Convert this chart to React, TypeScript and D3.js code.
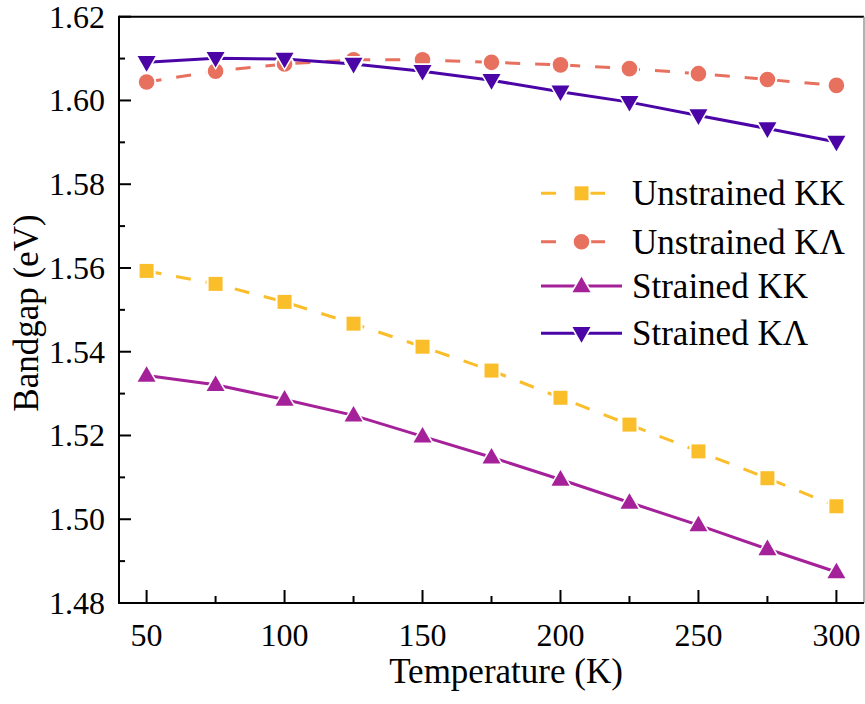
import React, { useEffect, useRef } from "react";
import * as d3 from "d3";

const temps = [50, 75, 100, 125, 150, 175, 200, 225, 250, 275, 300];
const unstrainedKK = [1.5593, 1.5562, 1.5519, 1.5467, 1.5412, 1.5355, 1.529, 1.5226, 1.5162, 1.5098, 1.5031];
const unstrainedKL = [1.6044, 1.607, 1.6087, 1.6097, 1.6097, 1.6091, 1.6085, 1.6076, 1.6064, 1.605, 1.6036];
const strainedKK = [1.5343, 1.5321, 1.5286, 1.5248, 1.5198, 1.5148, 1.5095, 1.504, 1.4986, 1.4929, 1.4874];
const strainedKL = [1.6091, 1.6101, 1.6099, 1.6087, 1.607, 1.6048, 1.6021, 1.5996, 1.5964, 1.5933, 1.5901];

const xTicks = [50, 100, 150, 200, 250, 300];
const xMinor = [75, 125, 175, 225, 275];
const yTicks = [1.48, 1.5, 1.52, 1.54, 1.56, 1.58, 1.6, 1.62];
const yMinor = [1.49, 1.51, 1.53, 1.55, 1.57, 1.59, 1.61];

const seriesNames = ["Unstrained KK", "Unstrained KΛ", "Strained KK", "Strained KΛ"];
const seriesData = [unstrainedKK, unstrainedKL, strainedKK, strainedKL];
const seriesColors = ["#FBBE2B", "#E8705F", "#A5219A", "#4B05A6"];
const seriesDashed = [true, true, false, false];
const seriesMarker = ["square", "circle", "up", "down"];

const FF = "Times New Roman";

function markerPath(kind: string, x: number, y: number, grow: number): string {
  if (kind === "square") {
    const a = 7 + grow;
    return `M${x - a},${y - a}H${x + a}V${y + a}H${x - a}Z`;
  }
  if (kind === "circle") {
    const r = 7.8 + grow;
    return `M${x - r},${y}A${r},${r} 0 1,0 ${x + r},${y}A${r},${r} 0 1,0 ${x - r},${y}Z`;
  }
  const s = 9 + grow * 1.5;
  const h = 15.6 + grow * 2.2;
  if (kind === "up") {
    return `M${x},${y - h * 0.6}L${x - s},${y + h * 0.4}L${x + s},${y + h * 0.4}Z`;
  }
  return `M${x},${y + h * 0.6}L${x - s},${y - h * 0.4}L${x + s},${y - h * 0.4}Z`;
}

export default function App() {
  const ref = useRef<SVGSVGElement>(null);
  const W = 865;
  const H = 704;

  useEffect(() => {
    const left = 119;
    const right = 864;
    const top = 16.7;
    const bottom = 603;
    const svg = d3.select(ref.current);
    svg.selectAll("*").remove();
    svg.append("style").text("text { font-family: 'Times New Roman', 'Liberation Serif', Tinos, serif; }");

    const x = d3.scaleLinear().domain([40, 310]).range([left, right]);
    const y = d3.scaleLinear().domain([1.48, 1.62]).range([bottom, top]);

    svg.append("rect").attr("width", W).attr("height", H).attr("fill", "white");

    const line = d3
      .line<number>()
      .x((_, i) => x(temps[i]))
      .y((d) => y(d));

    seriesData.forEach((data, k) => {
      svg
        .append("path")
        .attr("d", line(data) || "")
        .attr("fill", "none")
        .attr("stroke", seriesColors[k])
        .attr("stroke-width", 3)
        .attr("stroke-dasharray", seriesDashed[k] ? "15 15" : null);
    });

    const drawMarker = (kind: string, cx: number, cy: number, color: string) => {
      svg.append("path").attr("d", markerPath(kind, cx, cy, 2)).attr("fill", "white");
      svg.append("path").attr("d", markerPath(kind, cx, cy, 0)).attr("fill", color);
    };

    seriesData.forEach((data, k) => {
      data.forEach((v, i) => drawMarker(seriesMarker[k], x(temps[i]), y(v), seriesColors[k]));
    });

    const ln = (x1: number, y1: number, x2: number, y2: number, c = "black", w = 2) =>
      svg.append("line").attr("x1", x1).attr("y1", y1).attr("x2", x2).attr("y2", y2).attr("stroke", c).attr("stroke-width", w);

    ln(left, top, right, top);
    ln(right, top, right, bottom, "#999", 1.5);
    ln(left, top - 1, left, bottom + 1);
    ln(left - 1, bottom, right, bottom);

    const text = (s: string, tx: number, ty: number, size: number, anchor: string, dy = "0") =>
      svg
        .append("text")
        .attr("x", tx)
        .attr("y", ty)
        .attr("dy", dy)
        .attr("text-anchor", anchor)
        .attr("font-family", FF)
        .style("font-family", FF)
        .attr("font-size", size)
        .attr("fill", "black")
        .text(s);

    xTicks.forEach((t) => {
      ln(x(t), bottom, x(t), bottom - 13);
      text(String(t), x(t), 646, 32, "middle");
    });
    xMinor.forEach((t) => ln(x(t), bottom, x(t), bottom - 7));
    yTicks.forEach((t) => {
      ln(left, y(t), left + 12, y(t));
      text(t.toFixed(2), 105, y(t), 32, "end", "0.34em");
    });
    yMinor.forEach((t) => ln(left, y(t), left + 6, y(t)));

    text("Temperature (K)", 506, 683, 35, "middle");
    text("Bandgap (eV)", 0, 0, 35, "middle").attr("transform", "translate(38,313) rotate(-90)");

    const legendRows = [193.3, 241.7, 286, 333.3];
    seriesNames.forEach((name, k) => {
      const ly = legendRows[k];
      if (seriesDashed[k]) {
        ln(541, ly, 605, ly, seriesColors[k], 3).attr("stroke-dasharray", "15 34");
      } else {
        ln(541, ly, 622, ly, seriesColors[k], 3);
      }
      drawMarker(seriesMarker[k], 581.5, ly, seriesColors[k]);
      text(name, 632, ly, 35, "start", "0.34em");
    });
  }, []);

  return (
    <svg
      ref={ref}
      width={W}
      height={H}
      fontFamily={FF}
      style={{ position: "absolute", left: 0, top: 0, fontFamily: FF }}
    />
  );
}
